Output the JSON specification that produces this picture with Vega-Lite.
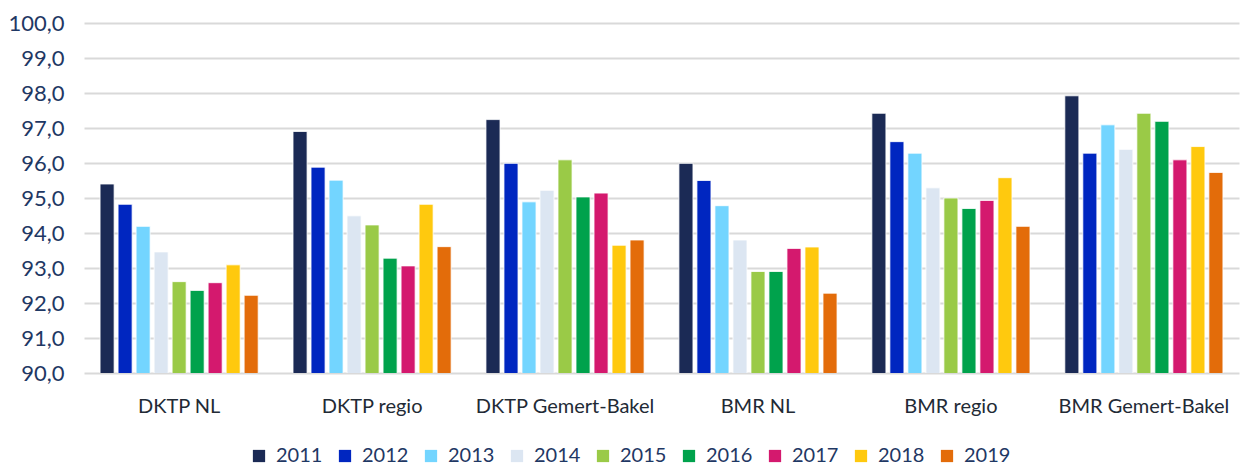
{
  "$schema": "https://vega.github.io/schema/vega-lite/v6.json",
  "autosize": {"type": "none"},
  "padding": {"left": 84, "top": 23, "right": 1, "bottom": 95},
  "width": 1155,
  "height": 350,
  "background": "white",
  "config": {
    "font": "Lato",
    "view": {"stroke": null},
    "axis": {"labelFont": "Lato", "labelColor": "#1F3864", "labelFontSize": 19}
  },
  "data": {"values": [
    {"g": "DKTP NL", "year": "2011", "v": 95.4},
    {"g": "DKTP NL", "year": "2012", "v": 94.82},
    {"g": "DKTP NL", "year": "2013", "v": 94.19},
    {"g": "DKTP NL", "year": "2014", "v": 93.46},
    {"g": "DKTP NL", "year": "2015", "v": 92.61},
    {"g": "DKTP NL", "year": "2016", "v": 92.36},
    {"g": "DKTP NL", "year": "2017", "v": 92.58},
    {"g": "DKTP NL", "year": "2018", "v": 93.09},
    {"g": "DKTP NL", "year": "2019", "v": 92.22},
    {"g": "DKTP regio", "year": "2011", "v": 96.9},
    {"g": "DKTP regio", "year": "2012", "v": 95.88},
    {"g": "DKTP regio", "year": "2013", "v": 95.51},
    {"g": "DKTP regio", "year": "2014", "v": 94.49},
    {"g": "DKTP regio", "year": "2015", "v": 94.23},
    {"g": "DKTP regio", "year": "2016", "v": 93.28},
    {"g": "DKTP regio", "year": "2017", "v": 93.06},
    {"g": "DKTP regio", "year": "2018", "v": 94.82},
    {"g": "DKTP regio", "year": "2019", "v": 93.61},
    {"g": "DKTP Gemert-Bakel", "year": "2011", "v": 97.24},
    {"g": "DKTP Gemert-Bakel", "year": "2012", "v": 95.99},
    {"g": "DKTP Gemert-Bakel", "year": "2013", "v": 94.89},
    {"g": "DKTP Gemert-Bakel", "year": "2014", "v": 95.22},
    {"g": "DKTP Gemert-Bakel", "year": "2015", "v": 96.09},
    {"g": "DKTP Gemert-Bakel", "year": "2016", "v": 95.03},
    {"g": "DKTP Gemert-Bakel", "year": "2017", "v": 95.14},
    {"g": "DKTP Gemert-Bakel", "year": "2018", "v": 93.65},
    {"g": "DKTP Gemert-Bakel", "year": "2019", "v": 93.8},
    {"g": "BMR NL", "year": "2011", "v": 95.99},
    {"g": "BMR NL", "year": "2012", "v": 95.5},
    {"g": "BMR NL", "year": "2013", "v": 94.78},
    {"g": "BMR NL", "year": "2014", "v": 93.8},
    {"g": "BMR NL", "year": "2015", "v": 92.9},
    {"g": "BMR NL", "year": "2016", "v": 92.9},
    {"g": "BMR NL", "year": "2017", "v": 93.56},
    {"g": "BMR NL", "year": "2018", "v": 93.6},
    {"g": "BMR NL", "year": "2019", "v": 92.28},
    {"g": "BMR regio", "year": "2011", "v": 97.42},
    {"g": "BMR regio", "year": "2012", "v": 96.61},
    {"g": "BMR regio", "year": "2013", "v": 96.28},
    {"g": "BMR regio", "year": "2014", "v": 95.29},
    {"g": "BMR regio", "year": "2015", "v": 95.0},
    {"g": "BMR regio", "year": "2016", "v": 94.7},
    {"g": "BMR regio", "year": "2017", "v": 94.93},
    {"g": "BMR regio", "year": "2018", "v": 95.58},
    {"g": "BMR regio", "year": "2019", "v": 94.19},
    {"g": "BMR Gemert-Bakel", "year": "2011", "v": 97.92},
    {"g": "BMR Gemert-Bakel", "year": "2012", "v": 96.28},
    {"g": "BMR Gemert-Bakel", "year": "2013", "v": 97.09},
    {"g": "BMR Gemert-Bakel", "year": "2014", "v": 96.39},
    {"g": "BMR Gemert-Bakel", "year": "2015", "v": 97.42},
    {"g": "BMR Gemert-Bakel", "year": "2016", "v": 97.19},
    {"g": "BMR Gemert-Bakel", "year": "2017", "v": 96.09},
    {"g": "BMR Gemert-Bakel", "year": "2018", "v": 96.47},
    {"g": "BMR Gemert-Bakel", "year": "2019", "v": 95.73}
  ]},
  "mark": {"type": "bar", "clip": true, "stroke": "white", "strokeWidth": 0.8},
  "encoding": {
    "x": {
      "field": "g", "type": "nominal", "sort": null,
      "scale": {"paddingInner": 0.16, "paddingOuter": 0.073},
      "axis": {"title": null, "labelAngle": 0, "ticks": false, "domain": false, "labelPadding": 23, "labelColor": "#222A35", "labelFontSize": 20, "labelLimit": 400, "labelOverlap": false}
    },
    "xOffset": {
      "field": "year", "type": "nominal",
      "scale": {"paddingInner": 0.22, "paddingOuter": 0.11}
    },
    "y": {
      "field": "v", "type": "quantitative",
      "scale": {"domain": [90, 100], "zero": false, "nice": false},
      "axis": {"title": null, "values": [90, 91, 92, 93, 94, 95, 96, 97, 98, 99, 100], "format": ".1f", "labelExpr": "replace(datum.label, '.', ',')", "ticks": false, "domain": false, "labelPadding": 20, "labelOverlap": false, "grid": true, "gridColor": "#D9D9D9", "gridWidth": 2, "labelFontSize": 22}
    },
    "color": {
      "field": "year", "type": "nominal",
      "scale": {
        "domain": ["2011", "2012", "2013", "2014", "2015", "2016", "2017", "2018", "2019"],
        "range": ["#1B2A55", "#0026C0", "#73D5FF", "#DCE6F2", "#9ACA47", "#00A24C", "#D4196E", "#FFC90E", "#E36C0A"]
      },
      "legend": {
        "title": null, "orient": "none", "direction": "horizontal",
        "legendX": 165, "legendY": 423,
        "symbolType": "square", "symbolSize": 150, "symbolStrokeWidth": 0,
        "labelFontSize": 20, "labelColor": "#1F3864", "labelFont": "Lato",
        "labelOffset": 7, "columnPadding": 12, "columns": 9
      }
    }
  }
}
